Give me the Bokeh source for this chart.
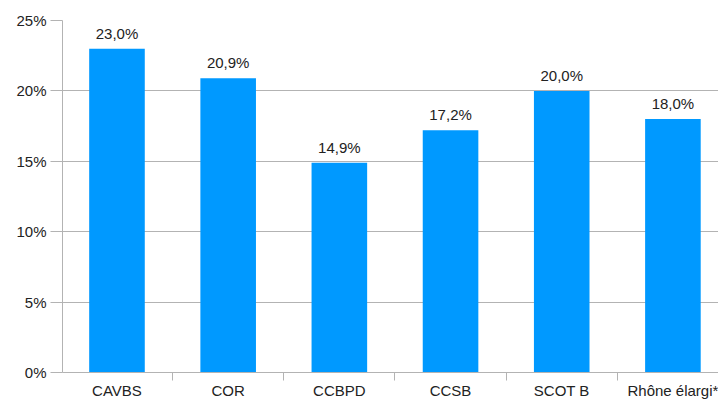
from bokeh.plotting import figure
from bokeh.models import Range1d, FixedTicker, ColumnDataSource
from bokeh.embed import file_html
from bokeh.resources import INLINE

categories = ["CAVBS", "COR", "CCBPD", "CCSB", "SCOT B", "Rhône élargi*"]
values = [23.0, 20.9, 14.9, 17.2, 20.0, 18.0]
y_ticks = [0, 5, 10, 15, 20, 25]
y_labels = ["0%", "5%", "10%", "15%", "20%", "25%"]

FONT = "Liberation Sans"
BLUE = "#0099ff"
GRID = "#b3b3b3"
TXT = "#222222"

n = len(categories)
centers = [i + 0.5 for i in range(n)]
texts = [f"{v:.1f}".replace(".", ",") + "%" for v in values]
src = ColumnDataSource(dict(x=centers, top=values, label=texts))

p = figure(width=718, height=401, output_backend="svg", toolbar_location=None,
           x_range=Range1d(0.01, 5.91), y_range=Range1d(0, 25),
           min_border_left=62, min_border_top=20, min_border_bottom=29, min_border_right=0)
p.outline_line_color = None
p.background_fill_color = "white"

p.vbar(x="x", top="top", width=0.5, source=src, fill_color=BLUE, line_color=None)
p.text(x="x", y="top", text="label", source=src, text_align="center",
       text_baseline="bottom", y_offset=-7, text_font_size="15px",
       text_color=TXT, text_font={"value": FONT})

# x axis
p.xaxis.ticker = FixedTicker(ticks=centers, minor_ticks=list(range(n + 1)))
p.xaxis.major_label_overrides = {c: lab for c, lab in zip(centers, categories)}
p.xaxis.major_tick_out = 0
p.xaxis.major_tick_in = 0
p.xaxis.minor_tick_out = 8
p.xaxis.minor_tick_in = 0
p.xaxis.minor_tick_line_color = GRID
p.xaxis.axis_line_color = GRID
p.xaxis.major_label_text_font = FONT
p.xaxis.major_label_text_font_size = "15px"
p.xaxis.major_label_text_color = TXT
p.xaxis.major_label_standoff = 1

# y axis
p.yaxis.ticker = FixedTicker(ticks=y_ticks, minor_ticks=[])
p.yaxis.major_label_overrides = {t: lab for t, lab in zip(y_ticks, y_labels)}
p.yaxis.major_tick_out = 12
p.yaxis.major_tick_in = 0
p.yaxis.major_tick_line_color = GRID
p.yaxis.axis_line_color = GRID
p.yaxis.major_label_text_font = FONT
p.yaxis.major_label_text_font_size = "15px"
p.yaxis.major_label_text_color = TXT
p.yaxis.major_label_standoff = 4

p.xgrid.grid_line_color = None
p.ygrid.ticker = FixedTicker(ticks=y_ticks)
p.ygrid.grid_line_color = GRID

open("out.html", "w").write(file_html(p, INLINE))
